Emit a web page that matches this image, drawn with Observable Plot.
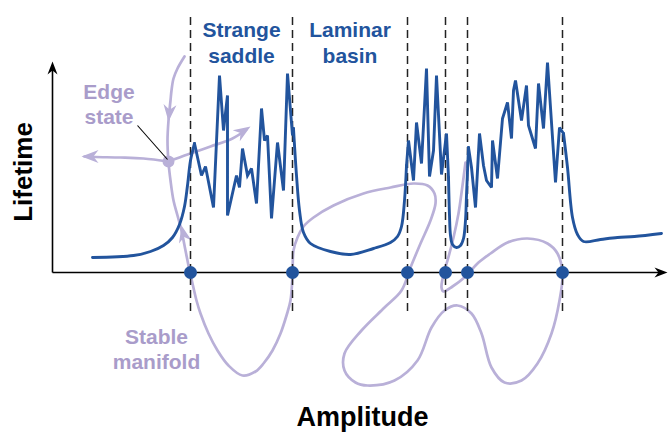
<!DOCTYPE html>
<html><head><meta charset="utf-8">
<script src="https://cdn.jsdelivr.net/npm/d3@7"></script>
<script src="https://cdn.jsdelivr.net/npm/@observablehq/plot@0.6"></script>
<style>body{margin:0;background:#fff}#chart svg{display:block}</style>
</head><body><div id="chart"></div>
<script>
// Amplitude (a) measured from the vertical axis, Lifetime (l) measured from the horizontal axis
const blueRise = [[40,15],[81,17],[98,21],[111,27],[120,35],[127,48],[132,66],[135,87],[138,112],[142,129]];
const blueSaddle = [[142,129],[149,97],[153,106],[161,65],[167,197],[171,142],[175,177],[175,57],[184,97],[187,85],[190,124],[195,97],[199,104],[204,69],[209,164],[212,132],[215,137],[219,54],[225,130],[231,82],[235,199],[240,137],[241,144]];
const blueBasin = [[241,144],[244,97],[247,62],[251,40],[258,29],[278,21],[298,18],[321,24],[338,30],[345,36],[349,46],[352,72],[354,107]];
const blueSaddle2 = [[354,107],[356,132],[361,92],[364,150],[369,109],[374,204],[377,96],[381,122],[384,197],[389,98],[394,139],[396,95]];
const blueDip = [[396,95],[397,57],[398,37],[400,28],[404,25],[408,27],[411,34],[413,52],[414,77],[416,125]];
const blueSaddle3 = [[416,125],[419,105],[423,65],[427,139],[431,107],[434,92],[439,85],[440,132],[445,94],[450,154],[455,170],[459,134],[461,182],[463,192],[469,152],[474,187],[476,147],[483,124],[486,189],[491,144],[495,210],[503,90],[507,145],[511,139]];
const blueTail = [[511,139],[515,105],[520,55],[525,38],[531,31],[548,33],[565,35],[582,36],[609,39]];

const stableManifold = [[132,216],[125,204],[121,194],[119,182],[118,172],[116,152],[115,132],[116,110],[118,92],[121,72],[125,57],[129,42],[133,22],[137,2],[140,-11],[144,-28],[148,-41],[156,-61],[165,-78],[176,-93],[190,-103],[203,-99],[211,-91],[220,-78],[228,-61],[234,-43],[238,-28],[240,-3],[241,22],[245,35],[251,46],[261,55],[281,67],[311,79],[338,85],[361,89],[375,87],[382,79],[383,69],[378,52],[368,29],[358,5],[349,-18],[332,-35],[309,-58],[292,-81],[292,-98],[303,-110],[315,-113],[342,-108],[365,-88],[379,-55],[392,-38],[405,-33],[419,-41],[429,-61],[439,-95],[452,-110],[469,-108],[485,-91],[499,-61],[507,-28],[510,-1],[505,19],[495,29],[475,34],[455,30],[438,19],[426,10],[413,-4],[400,-14],[391,-19],[389,-15],[392,2],[395,12],[401,35],[406,59],[410,87],[413,110]];
const unstableLeft = [[116,111],[91,114],[68,115],[43,115.5],[32,116]];
const unstableRight = [[116,111],[135,118],[158,126],[180,134],[194,143]];
const edgeState = [116,111];
const edgePointer = [[85,147],[115,113]];

const boundaries = [138,240,355,393,415,510];
const boundaryTop = 259, boundaryBottom = -39;
const axisEnds = {a: 608, l: 205};

// arrowheads: [amplitude, lifetime, direction in degrees]
const manifoldArrows = [[116,151,95],[129,47,-103],[29,116,180],[198,146,-33]];
const axisArrows = [[0,211,-90],[615,0,0]];

const regionNames = ["Strange\nsaddle","Laminar\nbasin"];
const regionA = [189,297.5];
const regionL = 209.5;
const manifoldNames = ["Edge\nstate","Stable\nmanifold"];
const manifoldA = [56.5,104];
const manifoldL = [149,-96];
const xTitle = "Amplitude", yTitle = "Lifetime";

const blue = "#22549d", lav = "#b9b0d8", lavText = "#a99cca";
const font = "Liberation Sans, Arial, sans-serif";
const pts = arr => arr.map(([a,l]) => ({a,l}));

function arrowSym(deg, L, W) {
  const t = deg*Math.PI/180, c = Math.cos(t), s = Math.sin(t);
  const p = [[0,0],[-L,-W],[-0.7*L,0],[-L,W]];
  return {draw(ctx){ p.forEach(([x,y],i)=>{const X=x*c-y*s, Y=x*s+y*c; i?ctx.lineTo(X,Y):ctx.moveTo(X,Y);}); ctx.closePath(); }};
}

const marks = [];
marks.push(Plot.line(pts(stableManifold), {x:"a", y:"l", curve:"catmull-rom", stroke:lav, strokeWidth:2.7}));
marks.push(Plot.line(pts(unstableLeft), {x:"a", y:"l", curve:"catmull-rom", stroke:lav, strokeWidth:2.7}));
marks.push(Plot.line(pts(unstableRight), {x:"a", y:"l", curve:"catmull-rom", stroke:lav, strokeWidth:2.7}));
marks.push(Plot.dot([edgeState], {x:d=>d[0], y:d=>d[1], r:6, fill:lav}));
marks.push(Plot.link([edgePointer], {x1:d=>d[0][0], y1:d=>d[0][1], x2:d=>d[1][0], y2:d=>d[1][1], stroke:"black", strokeWidth:1.1}));
for (const [a,l,deg] of manifoldArrows) marks.push(Plot.dot([0], {x:()=>a, y:()=>l, symbol:arrowSym(deg,17,6.5), fill:lav, stroke:"none"}));
marks.push(Plot.ruleX(boundaries, {x:d=>d, y1:()=>boundaryBottom, y2:()=>boundaryTop, stroke:"#222", strokeWidth:1.5, strokeDasharray:"8,5"}));
marks.push(Plot.link([{a1:0,l1:0,a2:axisEnds.a,l2:0},{a1:0,l1:0,a2:0,l2:axisEnds.l}], {x1:"a1", y1:"l1", x2:"a2", y2:"l2", stroke:"black", strokeWidth:1.6}));
for (const [a,l,deg] of axisArrows) marks.push(Plot.dot([0], {x:()=>a, y:()=>l, symbol:arrowSym(deg,13,5), fill:"black", stroke:"none"}));
for (const piece of [blueRise, blueBasin, blueDip, blueTail]) marks.push(Plot.line(pts(piece), {x:"a", y:"l", curve:"catmull-rom", stroke:blue, strokeWidth:2.9}));
for (const piece of [blueSaddle, blueSaddle2, blueSaddle3]) marks.push(Plot.line(pts(piece), {x:"a", y:"l", curve:"linear", stroke:blue, strokeWidth:2.9, strokeLinejoin:"miter", strokeMiterlimit:3}));
marks.push(Plot.dot(boundaries, {x:d=>d, y:()=>0, r:6.5, fill:blue}));
marks.push(Plot.text(regionNames, {x:(d,i)=>regionA[i], y:()=>regionL, text:d=>d, fill:blue, fontSize:21, fontWeight:"bold", fontFamily:font, lineAnchor:"bottom", lineHeight:1.22}));
marks.push(Plot.text(manifoldNames, {x:(d,i)=>manifoldA[i], y:(d,i)=>manifoldL[i], text:d=>d, fill:lavText, fontSize:21, fontWeight:"bold", fontFamily:font, lineAnchor:"bottom", lineHeight:1.18}));
marks.push(Plot.text([xTitle], {x:()=>310, y:()=>-153, text:d=>d, fill:"black", fontSize:27, fontWeight:"bold", fontFamily:font, lineAnchor:"bottom"}));
marks.push(Plot.text([yTitle], {x:()=>-21, y:()=>100.5, text:d=>d, rotate:-90, fill:"black", fontSize:26, fontWeight:"bold", fontFamily:font, lineAnchor:"bottom"}));

const chart = Plot.plot({
  width: 668, height: 433, margin: 0,
  x: {domain: [-52, 616], range: [0, 668], axis: null},
  y: {domain: [-161, 272], range: [433, 0], axis: null},
  style: {background: "#fff", fontFamily: font},
  marks
});
document.getElementById("chart").append(chart);
</script></body></html>
